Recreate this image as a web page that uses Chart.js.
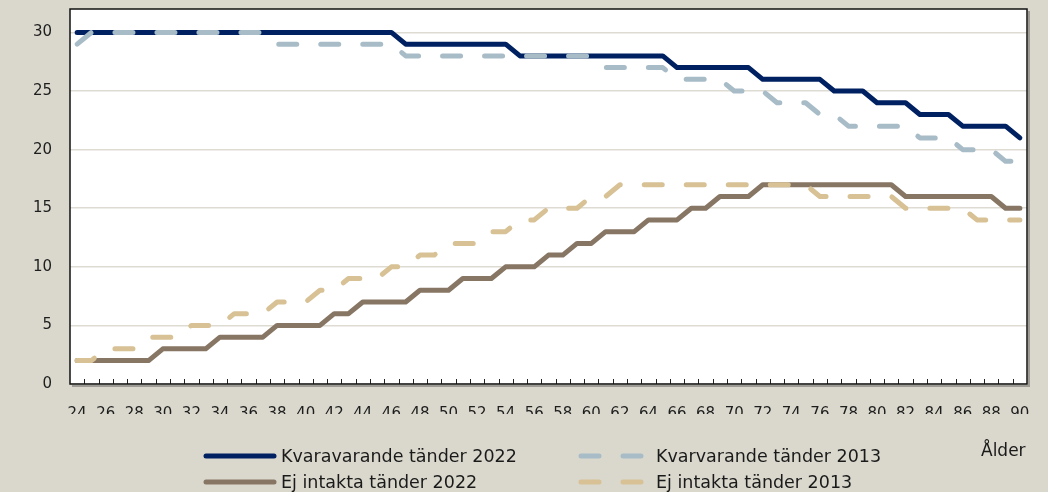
<!DOCTYPE html>
<html>
<head>
<meta charset="utf-8">
<script src="https://cdn.jsdelivr.net/npm/chart.js@4.4.1/dist/chart.umd.min.js"></script>
<style>
    body { margin: 0; background: #dad8cc; }
    #wrap { position: relative; width: 1048px; height: 492px; background: #dad8cc; }
    #chart { position: absolute; left: 0; top: 0; }
    .legend-item { position: absolute; height: 22px; display: flex; align-items: center; }
    .legend-item svg { display: block; }
    .legend-text, .axis-name {
        font-family: "DejaVu Sans", sans-serif;
        font-size: 17.5px;
        color: #1a1a1a;
        white-space: nowrap;
        line-height: 22px;
    }
    .legend-text { position: absolute; }
    .axis-name { position: absolute; left: 981px; top: 439px; font-size: 17px; }
</style>
</head>
<body>
<div id="wrap">
    <canvas id="chart" width="1048" height="492"></canvas>
    <div id="legend"></div>
    <div class="axis-name">Ålder</div>
</div>
<script>
const Ages = [
    '24','25','26','27','28','29','30','31','32','33',
    '34','35','36','37','38','39','40','41','42','43',
    '44','45','46','47','48','49','50','51','52','53',
    '54','55','56','57','58','59','60','61','62','63',
    '64','65','66','67','68','69','70','71','72','73',
    '74','75','76','77','78','79','80','81','82','83',
    '84','85','86','87','88','89','90'
];
const Kvar2022 = [
    30,30,30,30,30,30,30,30,30,30,
    30,30,30,30,30,30,30,30,30,30,
    30,30,30,29,29,29,29,29,29,29,
    29,28,28,28,28,28,28,28,28,28,
    28,28,27,27,27,27,27,27,26,26,
    26,26,26,25,25,25,24,24,24,23,
    23,23,22,22,22,22,21
];
const Kvar2013 = [
    29,30,30,30,30,30,30,30,30,30,
    30,30,30,30,29,29,29,29,29,29,
    29,29,29,28,28,28,28,28,28,28,
    28,28,28,28,28,28,28,27,27,27,
    27,27,26,26,26,26,25,25,25,24,
    24,24,23,23,22,22,22,22,22,21,
    21,21,20,20,20,19,19
];
const Ej2022 = [
    2,2,2,2,2,2,3,3,3,3,
    4,4,4,4,5,5,5,5,6,6,
    7,7,7,7,8,8,8,9,9,9,
    10,10,10,11,11,12,12,13,13,13,
    14,14,14,15,15,16,16,16,17,17,
    17,17,17,17,17,17,17,17,16,16,
    16,16,16,16,16,15,15
];
const Ej2013 = [
    2,2,3,3,3,4,4,4,5,5,
    5,6,6,6,7,7,7,8,8,9,
    9,9,10,10,11,11,12,12,12,13,
    13,14,14,15,15,15,16,16,17,17,
    17,17,17,17,17,17,17,17,17,17,
    17,17,16,16,16,16,16,16,15,15,
    15,15,15,14,14,14,14
];
const YTicks = [0, 5, 10, 15, 20, 25, 30];

const Colors = {
    navy: '#002161',
    lightBlue: '#a8bcc8',
    brown: '#887664',
    tan: '#d7c195',
    grid: '#dedbd3',
    text: '#1e1e1e'
};
const Dash = [18, 24];

// series in legend order
const Series = [
    { label: 'Kvaravarande tänder 2022', data: Kvar2022, color: Colors.navy, dashed: false, col: 0, row: 0 },
    { label: 'Kvarvarande tänder 2013', data: Kvar2013, color: Colors.lightBlue, dashed: true, col: 1, row: 0 },
    { label: 'Ej intakta tänder 2022', data: Ej2022, color: Colors.brown, dashed: false, col: 0, row: 1 },
    { label: 'Ej intakta tänder 2013', data: Ej2013, color: Colors.tan, dashed: true, col: 1, row: 1 },
];
// draw order: first dataset ends on top
const DrawOrder = [3, 1, 2, 0];

//#region Plugins
const plotFrame = {
    id: 'plotFrame',
    beforeDraw(chart) {
        const { ctx, chartArea: a } = chart;
        ctx.save();
        ctx.fillStyle = '#ffffff';
        ctx.fillRect(a.left, a.top, a.right - a.left, a.bottom - a.top);
        ctx.restore();
    },
    afterDraw(chart) {
        const { ctx, chartArea: a } = chart;
        const x = chart.scales.x;
        ctx.save();
        // small ticks between the ages, pointing into the plot
        const half = (x.getPixelForValue(1) - x.getPixelForValue(0)) / 2;
        ctx.strokeStyle = '#222';
        ctx.lineWidth = 1;
        ctx.beginPath();
        for (let i = 1; i < Ages.length; i++) {
            const px = Math.round(x.getPixelForValue(i) - half) + 0.5;
            ctx.moveTo(px, a.bottom);
            ctx.lineTo(px, a.bottom - 5);
        }
        ctx.stroke();
        // shadow on the right edge
        ctx.strokeStyle = '#9d9b93';
        ctx.lineWidth = 2;
        ctx.beginPath();
        ctx.moveTo(a.right + 2, a.top + 2);
        ctx.lineTo(a.right + 2, a.bottom + 2);
        ctx.lineTo(a.left + 2, a.bottom + 2);
        ctx.stroke();
        // frame
        ctx.strokeStyle = '#111';
        ctx.lineWidth = 1.5;
        ctx.strokeRect(a.left, a.top, a.right - a.left, a.bottom - a.top);
        ctx.restore();
    }
};
//#endregion

function buildDatasets() {
    return DrawOrder.map(i => {
        const s = Series[i];
        return {
            label: s.label,
            data: s.data,
            borderColor: s.color,
            backgroundColor: s.color,
            borderWidth: 5,
            borderDash: s.dashed ? Dash : [],
            borderCapStyle: 'round',
            borderJoinStyle: 'round',
            pointRadius: 0,
            tension: 0,
            fill: false
        };
    });
}

function setUpChart() {
    new Chart(document.getElementById('chart'), {
        type: 'line',
        data: {
            labels: Ages,
            datasets: buildDatasets()
        },
        options: {
            responsive: false,
            animation: false,
            devicePixelRatio: 1,
            layout: { padding: { top: 9, right: 21, bottom: 78, left: 0 } },
            plugins: {
                legend: { display: false },
                tooltip: { enabled: false }
            },
            scales: {
                x: {
                    type: 'category',
                    offset: true,
                    grid: { display: false },
                    border: { display: false },
                    ticks: {
                        autoSkip: false,
                        maxRotation: 0,
                        minRotation: 0,
                        padding: 13,
                        color: Colors.text,
                        font: { family: 'DejaVu Sans', size: 15 },
                        callback: (val, i) => i % 2 === 0 ? Ages[i] : ''
                    },
                    afterFit: s => { s.height = 30; }
                },
                y: {
                    min: 0,
                    max: 32,
                    grid: { color: Colors.grid, lineWidth: 1.5, drawTicks: false },
                    border: { display: false },
                    ticks: {
                        padding: 18,
                        color: Colors.text,
                        font: { family: 'DejaVu Sans', size: 15 }
                    },
                    afterBuildTicks: s => { s.ticks = YTicks.map(v => ({ value: v })); },
                    afterFit: s => {
                        s.width = 70;
                        // the top of the plot is free of labels, don't reserve room for one
                        s.paddingTop = 0;
                    }
                }
            }
        },
        plugins: [plotFrame]
    });
}

function setUpLegend() {
    const legend = document.getElementById('legend');
    const cols = [{ line: 203, width: 74, text: 281 }, { line: 578, width: 70, text: 656 }];
    const rows = [445, 471];
    for (const s of Series) {
        const col = cols[s.col];
        const item = document.createElement('div');
        item.className = 'legend-item';
        item.style.left = col.line + 'px';
        item.style.top = rows[s.row] + 'px';
        const dash = s.dashed ? 'stroke-dasharray="18 24"' : '';
        item.innerHTML = `
            <svg width="${col.width}" height="22">
                <line x1="3" y1="11" x2="${col.width - 3}" y2="11" stroke="${s.color}"
                      stroke-width="5" stroke-linecap="round" ${dash}/>
            </svg>`;
        legend.append(item);
        const text = document.createElement('div');
        text.className = 'legend-text';
        text.style.left = col.text + 'px';
        text.style.top = rows[s.row] + 'px';
        text.textContent = s.label;
        legend.append(text);
    }
}

setUpChart();
setUpLegend();
</script>
</body>
</html>
